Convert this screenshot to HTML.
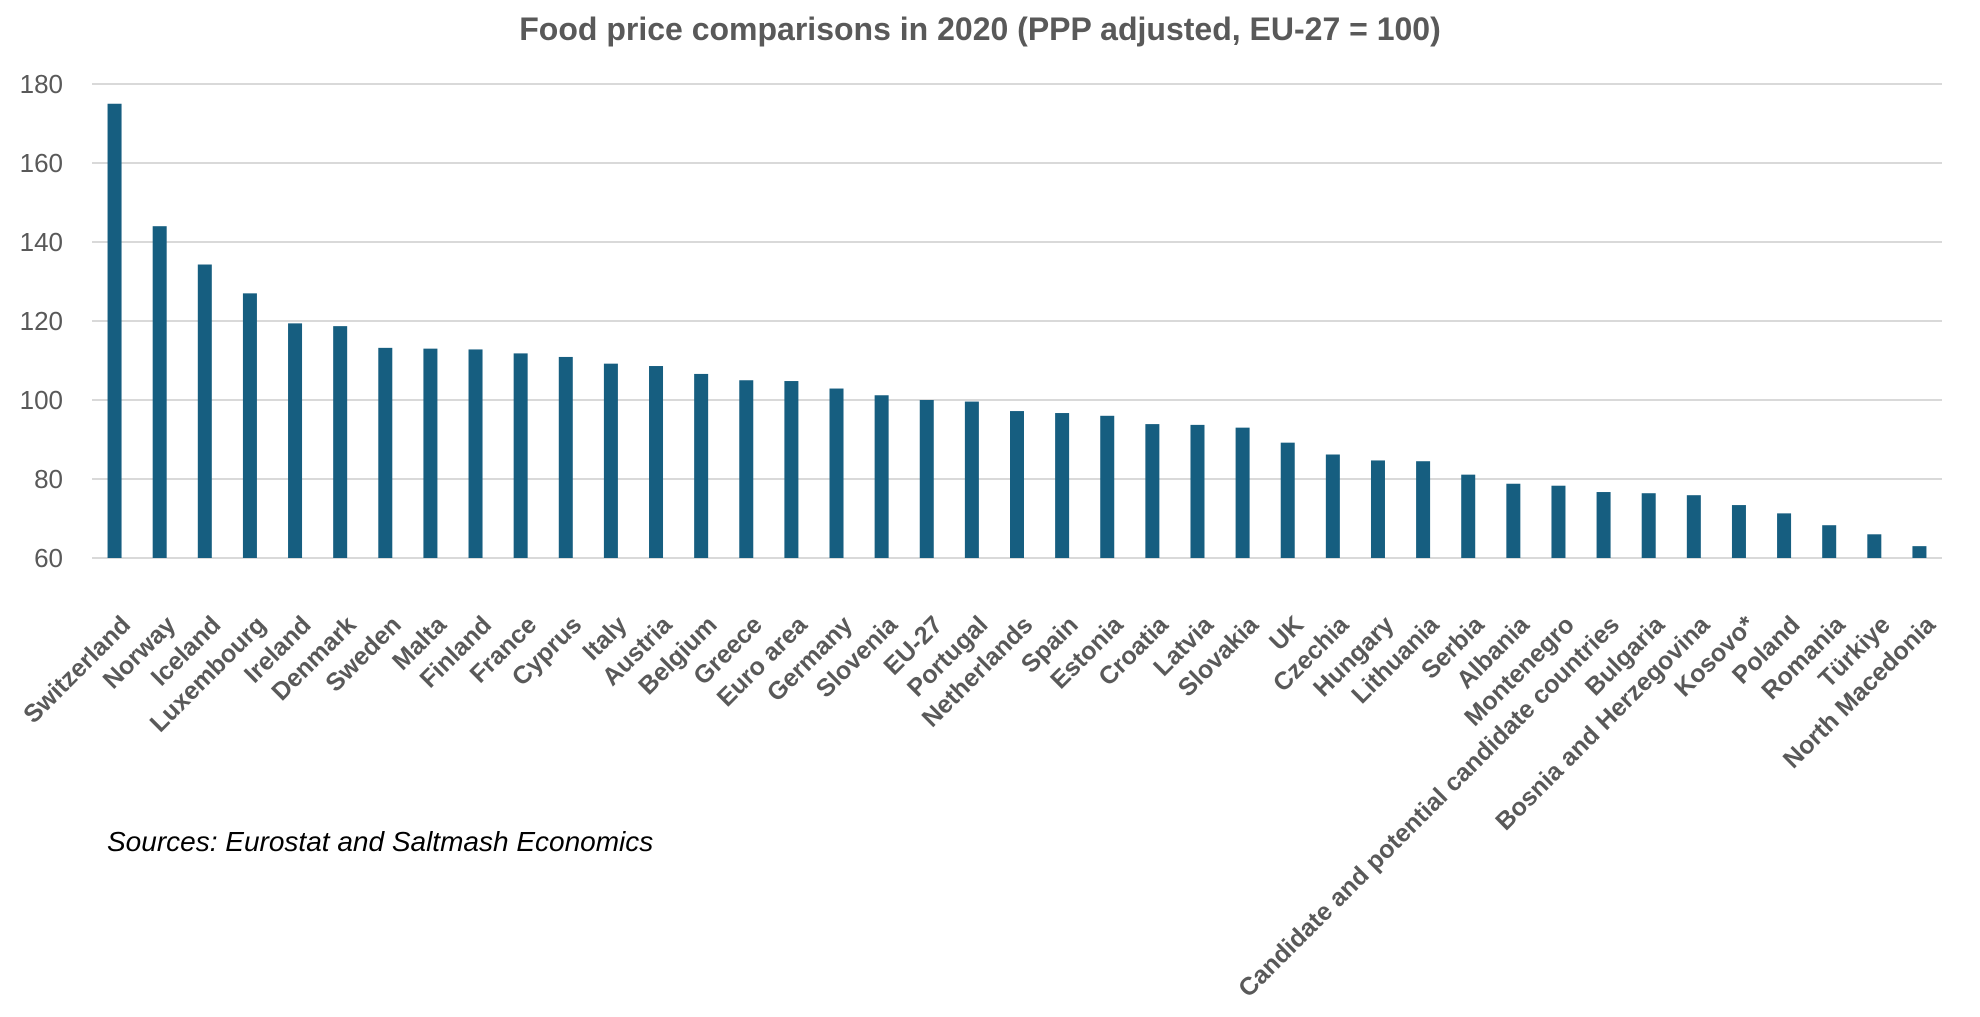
<!DOCTYPE html>
<html><head><meta charset="utf-8"><style>
body{margin:0;background:#fff;}
svg{display:block;font-family:"Liberation Sans",sans-serif;}
</style></head><body>
<svg id="chart" width="1980" height="1017">
<text x="980" y="40" text-anchor="middle" font-size="32" font-weight="bold" fill="#595959">Food price comparisons in 2020 (PPP adjusted, EU-27 = 100)</text>
<g id="grid"></g><g id="bars"></g><g id="xlabels"></g>
<text x="107" y="851" font-size="28" font-style="italic" fill="#000">Sources: Eurostat and Saltmash Economics</text>
</svg>
<script>
const categories=["Switzerland","Norway","Iceland","Luxembourg","Ireland","Denmark","Sweden","Malta","Finland","France","Cyprus","Italy","Austria","Belgium","Greece","Euro area","Germany","Slovenia","EU-27","Portugal","Netherlands","Spain","Estonia","Croatia","Latvia","Slovakia","UK","Czechia","Hungary","Lithuania","Serbia","Albania","Montenegro","Candidate and potential candidate countries","Bulgaria","Bosnia and Herzegovina","Kosovo*","Poland","Romania","Türkiye","North Macedonia"];
const values=[175,144,134.3,127,119.4,118.7,113.2,113,112.8,111.8,110.9,109.2,108.6,106.6,105,104.8,102.9,101.2,100,99.6,97.2,96.7,96,93.9,93.7,93,89.2,86.2,84.7,84.5,81.1,78.8,78.3,76.7,76.4,75.9,73.4,71.3,68.3,66,63];
const ticks=[60,80,100,120,140,160,180];
const NS="http://www.w3.org/2000/svg";
const L=92,R=1942,T=84,B=558,ymin=60,ymax=180;
const y=v=>B-(v-ymin)/(ymax-ymin)*(B-T);
const step=(R-L)/categories.length;
const x=i=>L+step*(i+0.5);
const grid=document.getElementById('grid'),bars=document.getElementById('bars'),xl=document.getElementById('xlabels');
function mk(t,a,p){const e=document.createElementNS(NS,t);for(const k in a)e.setAttribute(k,a[k]);p.appendChild(e);return e;}
ticks.forEach(t=>{
 const ln=mk('line',{x1:L,x2:R,y1:y(t),y2:y(t),stroke:'#d9d9d9','stroke-width':2},grid);
 
 
 const tx=mk('text',{x:63,y:y(t)+9,'text-anchor':'end','font-size':26,fill:'#595959'},grid);
 tx.textContent=t;
 
 
});
categories.forEach((c,i)=>{
 const bw=14;
 const r=mk('rect',{x:x(i)-bw/2,y:y(values[i]),width:bw,height:B-y(values[i]),fill:'#165e80'},bars);
 
 
 const t=mk('text',{transform:`translate(${x(i)+4},${B+55}) rotate(-45)`,'text-anchor':'end',dy:'0.75em','font-size':25,'font-weight':'bold',fill:'#595959'},xl);
 t.textContent=c;
 
 
});
</script>
</body></html>
